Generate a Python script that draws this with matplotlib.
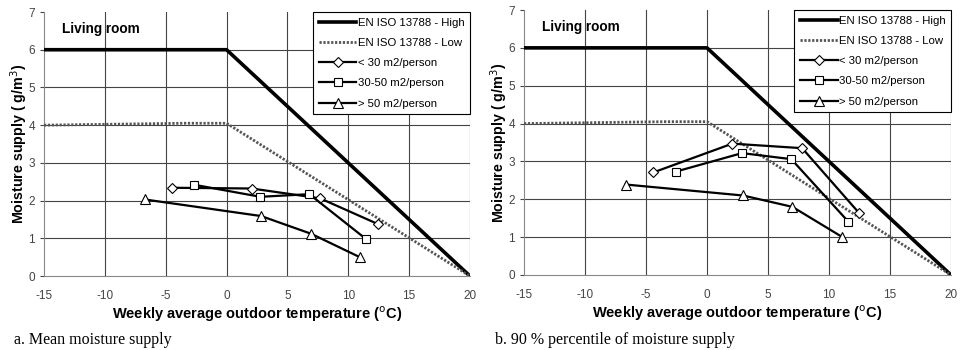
import matplotlib
matplotlib.use('Agg')
import matplotlib.pyplot as plt
from matplotlib.lines import Line2D

# 标准曲线 EN ISO 13788
high_x = [-15, 0, 20]
high_y = [6, 6, 0]
low_x = [-15, -3.5, 0, 20]
low_y = [4, 4.05, 4.05, 0]

# a. 平均值
a_small_x = [-4.45, 2.07, 7.68, 12.42]
a_small_y = [2.34, 2.32, 2.06, 1.38]
a_mid_x = [-2.67, 2.78, 6.8, 11.5]
a_mid_y = [2.42, 2.10, 2.17, 0.97]
a_big_x = [-6.73, 2.84, 6.95, 10.95]
a_big_y = [2.03, 1.59, 1.12, 0.50]

# b. 90% 分位数
b_small_x = [-4.4, 2.07, 7.8, 12.43]
b_small_y = [2.71, 3.47, 3.35, 1.65]
b_mid_x = [-2.57, 2.87, 6.91, 11.58]
b_mid_y = [2.73, 3.22, 3.06, 1.41]
b_big_x = [-6.67, 2.95, 7.0, 11.1]
b_big_y = [2.39, 2.10, 1.80, 1.0]

legend_labels = ['EN ISO 13788 - High', 'EN ISO 13788 - Low',
                 '< 30 m2/person', '30-50 m2/person', '> 50 m2/person']
x_ticks = [-15, -10, -5, 0, 5, 10, 15, 20]
y_ticks = [0, 1, 2, 3, 4, 5, 6, 7]

plt.rcParams['font.family'] = ['Liberation Sans', 'DejaVu Sans']

fig = plt.figure(figsize=(9.61, 3.5), dpi=100)
ax_a = fig.add_axes([0.0458, 0.2114, 0.4432, 0.7543])
ax_b = fig.add_axes([0.5453, 0.2143, 0.4443, 0.7571])

low_style = dict(color='#555555', linewidth=2.0, linestyle=(0, (0.8, 0.6)))
mk = dict(color='black', linewidth=1.6, markerfacecolor='white',
          markeredgecolor='black', markeredgewidth=0.8)


def draw_panel(ax, small, mid, big, caption, cap_x):
    ax.plot(high_x, high_y, color='black', linewidth=2.6, zorder=3)
    ax.plot(low_x, low_y, zorder=3, **low_style)
    ax.plot(small[0], small[1], marker='D', markersize=5.5, zorder=4, **mk)
    ax.plot(mid[0], mid[1], marker='s', markersize=6, zorder=4, **mk)
    ax.plot(big[0], big[1], marker='^', markersize=7.5, zorder=4, **mk)

    ax.set_xlim(-15, 20)
    ax.set_ylim(0, 7)
    ax.set_xticks(x_ticks)
    ax.set_yticks(y_ticks)
    ax.set_xticklabels([str(v) for v in x_ticks])
    ax.tick_params(axis='both', labelsize=8.5, colors='#444444', length=3,
                   width=0.8, direction='out')
    ax.tick_params(axis='x', length=0, pad=10)
    # 网格线
    for v in x_ticks[1:]:
        ax.axvline(v, color='#444444', linewidth=0.8, zorder=1)
    for v in y_ticks[1:-1]:
        ax.axhline(v, color='#444444', linewidth=0.8, zorder=1)
    ax.spines['top'].set_visible(False)
    ax.spines['right'].set_visible(False)
    ax.spines['left'].set_color('#888888')
    ax.spines['bottom'].set_color('#888888')

    ax.set_xlabel('Weekly average outdoor temperature ($^{\\rm o}$C)',
                  fontsize=10.5, fontweight='bold', labelpad=2)
    ax.set_ylabel('Moisture supply ( g/m$^{\\rm 3}$)', fontsize=10.3,
                  fontweight='bold', labelpad=-1)
    ax.text(-13.5, 6.55, 'Living room', fontsize=9.8, fontweight='bold',
            va='center', ha='left', zorder=5)

    handles = [Line2D([], [], color='black', linewidth=2.6),
               Line2D([], [], **low_style),
               Line2D([], [], marker='D', markersize=5.5, **mk),
               Line2D([], [], marker='s', markersize=6, **mk),
               Line2D([], [], marker='^', markersize=7.5, **mk)]
    leg = ax.legend(handles, legend_labels, loc='upper right',
                    bbox_to_anchor=(1.0, 1.0), fontsize=8.2, frameon=True,
                    fancybox=False, framealpha=1, edgecolor='black',
                    handlelength=3.3, handletextpad=0.1, labelspacing=0.9,
                    borderpad=0.5, borderaxespad=0)
    leg.get_frame().set_linewidth(0.8)
    leg.set_zorder(6)

    fig.text(cap_x, 0.03, caption, fontsize=11.5, family='Liberation Serif',
             ha='left', va='center')


draw_panel(ax_a, (a_small_x, a_small_y), (a_mid_x, a_mid_y),
           (a_big_x, a_big_y), 'a. Mean moisture supply', 0.015)
draw_panel(ax_b, (b_small_x, b_small_y), (b_mid_x, b_mid_y),
           (b_big_x, b_big_y), 'b. 90 % percentile of moisture supply', 0.515)

plt.savefig('out.png', dpi=100)
